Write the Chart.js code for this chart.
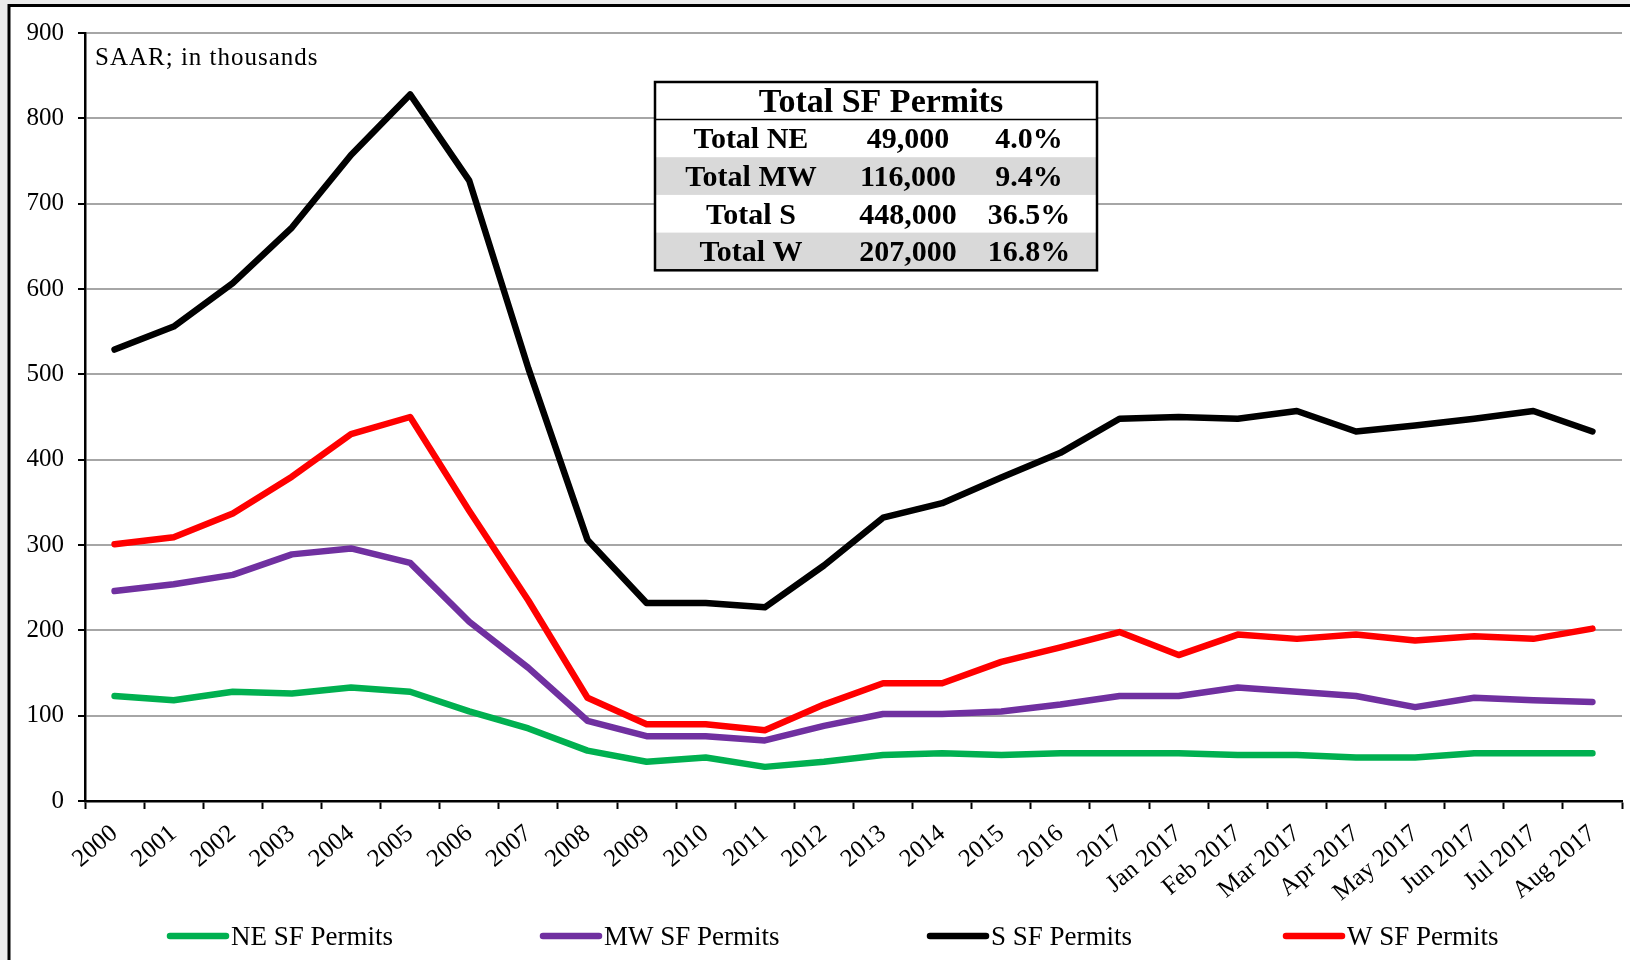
<!DOCTYPE html>
<html>
<head>
<meta charset="utf-8">
<title>SF Permits by Region</title>
<script src="https://cdn.jsdelivr.net/npm/chart.js"></script>
<style>
    html, body { margin: 0; padding: 0; background: #ebebeb; }
    #wrap { width: 1630px; height: 960px; position: relative; }
</style>
</head>
<body>
<div id="wrap"><canvas id="permitChart"></canvas></div>
<script>
// 카테고리 (연도 + 2017년 월별)
const labels = ['2000', '2001', '2002', '2003', '2004', '2005', '2006', '2007', '2008',
    '2009', '2010', '2011', '2012', '2013', '2014', '2015', '2016', '2017',
    'Jan 2017', 'Feb 2017', 'Mar 2017', 'Apr 2017', 'May 2017', 'Jun 2017', 'Jul 2017', 'Aug 2017'];

// 지역별 단독주택 허가 (SAAR, 천 단위)
const neValues = [123, 118, 128, 126, 133, 128, 105, 85, 59, 46, 51, 40, 46, 54, 56, 54, 56, 56,
    56, 54, 54, 51, 51, 56, 56, 56];
const mwValues = [246, 254, 265, 289, 296, 279, 210, 156, 94, 76, 76, 71, 88, 102, 102, 105, 113, 123,
    123, 133, 128, 123, 110, 121, 118, 116];
const sValues = [529, 556, 607, 672, 757, 828, 727, 507, 306, 232, 232, 227, 276, 332, 349, 379, 408, 448,
    450, 448, 457, 433, 440, 448, 457, 433];
const wValues = [301, 309, 337, 380, 430, 450, 340, 235, 121, 90, 90, 83, 113, 138, 138, 163, 180, 198,
    171, 195, 190, 195, 188, 193, 190, 202];

// 요약 표
const tableTitle = 'Total SF Permits';
const tableNames = ['Total NE', 'Total MW', 'Total S', 'Total W'];
const tableCounts = ['49,000', '116,000', '448,000', '207,000'];
const tableShares = ['4.0%', '9.4%', '36.5%', '16.8%'];

const yTicks = [0, 100, 200, 300, 400, 500, 600, 700, 800, 900];
const note = 'SAAR; in thousands';

const SERIF = '"Liberation Serif", "Times New Roman", serif';

// 배경 + 외곽 테두리
const framePlugin = {
    id: 'frame',
    beforeDraw(chart) {
        const ctx = chart.ctx;
        ctx.save();
        ctx.fillStyle = '#ebebeb';
        ctx.fillRect(0, 0, chart.width, chart.height);
        ctx.fillStyle = '#ffffff';
        ctx.fillRect(9, 6, chart.width - 9, chart.height - 6);
        ctx.strokeStyle = '#000000';
        ctx.lineWidth = 3;
        ctx.beginPath();
        ctx.moveTo(9, chart.height + 2);
        ctx.lineTo(9, 5.5);
        ctx.lineTo(chart.width + 2, 5.5);
        ctx.stroke();
        ctx.restore();
    }
};

// 메모, 표, 범례
const overlayPlugin = {
    id: 'overlay',
    afterDraw(chart) {
        const ctx = chart.ctx;
        ctx.save();

        // SAAR 메모
        ctx.fillStyle = '#000';
        ctx.font = '25px ' + SERIF;
        ctx.letterSpacing = '1px';
        ctx.textAlign = 'left';
        ctx.textBaseline = 'alphabetic';
        ctx.fillText(note, 95, 65);
        ctx.letterSpacing = '0px';

        // 표
        const tx = 655, ty = 82, tw = 442, titleH = 37.5, rowH = 37.7;
        ctx.fillStyle = '#ffffff';
        ctx.fillRect(tx, ty, tw, titleH + rowH * 4);
        ctx.fillStyle = '#d9d9d9';
        ctx.fillRect(tx, ty + titleH + rowH, tw, rowH);
        ctx.fillRect(tx, ty + titleH + rowH * 3, tw, rowH);
        ctx.strokeStyle = '#000';
        ctx.lineWidth = 2.5;
        ctx.strokeRect(tx, ty, tw, titleH + rowH * 4);
        ctx.lineWidth = 1.5;
        ctx.beginPath();
        ctx.moveTo(tx, ty + titleH);
        ctx.lineTo(tx + tw, ty + titleH);
        ctx.stroke();

        ctx.fillStyle = '#000';
        ctx.textAlign = 'center';
        ctx.textBaseline = 'middle';
        ctx.font = 'bold 34px ' + SERIF;
        ctx.fillText(tableTitle, 881, ty + titleH / 2 + 2);
        ctx.font = 'bold 30px ' + SERIF;
        tableNames.forEach((name, i) => {
            const cy = ty + titleH + rowH * i + rowH / 2 + 2;
            ctx.fillText(name, 751, cy);
            ctx.fillText(tableCounts[i], 908, cy);
            ctx.fillText(tableShares[i], 1029, cy);
        });

        // 범례
        const legendX = [170, 543, 930, 1286];
        const ly = 936;
        ctx.font = '27px ' + SERIF;
        ctx.textAlign = 'left';
        ctx.lineCap = 'round';
        chart.data.datasets.forEach((ds, i) => {
            ctx.strokeStyle = ds.borderColor;
            ctx.lineWidth = 6.5;
            ctx.beginPath();
            ctx.moveTo(legendX[i], ly);
            ctx.lineTo(legendX[i] + 56, ly);
            ctx.stroke();
            ctx.fillStyle = '#000';
            ctx.fillText(ds.label, legendX[i] + 61, ly + 2);
        });

        ctx.restore();
    }
};

const lineStyle = {
    borderWidth: 6.5,
    pointRadius: 0,
    tension: 0,
    fill: false,
    borderJoinStyle: 'round',
    borderCapStyle: 'round'
};

new Chart(document.getElementById('permitChart'), {
    type: 'line',
    data: {
        labels: labels,
        datasets: [
            { label: 'NE SF Permits', data: neValues, borderColor: '#00b050', ...lineStyle },
            { label: 'MW SF Permits', data: mwValues, borderColor: '#7030a0', ...lineStyle },
            { label: 'S SF Permits', data: sValues, borderColor: '#000000', ...lineStyle },
            { label: 'W SF Permits', data: wValues, borderColor: '#ff0000', ...lineStyle }
        ]
    },
    options: {
        responsive: true,
        maintainAspectRatio: false,
        animation: false,
        layout: { padding: { top: 33, left: 0, right: 8, bottom: 0 } },
        plugins: {
            legend: { display: false },
            tooltip: { enabled: false },
            title: { display: false }
        },
        scales: {
            x: {
                offset: true,
                grid: {
                    offset: true,
                    drawOnChartArea: false,
                    drawTicks: true,
                    tickLength: 8,
                    tickColor: '#000',
                    tickWidth: 2
                },
                border: { color: '#000', width: 2.5 },
                ticks: {
                    autoSkip: false,
                    maxRotation: 40,
                    minRotation: 40,
                    padding: 10,
                    color: '#000',
                    font: { family: SERIF, size: 25 }
                },
                afterFit(scale) { scale.height = 159; }
            },
            y: {
                min: 0,
                max: 900,
                afterBuildTicks(scale) { scale.ticks = yTicks.map(v => ({ value: v })); },
                grid: {
                    color: '#a6a6a6',
                    lineWidth: 2,
                    tickColor: '#000',
                    tickLength: 7,
                    tickWidth: 2
                },
                border: { color: '#000', width: 2.5 },
                ticks: {
                    padding: 14,
                    color: '#000',
                    font: { family: SERIF, size: 25 }
                },
                afterFit(scale) { scale.width = 85; }
            }
        }
    },
    plugins: [framePlugin, overlayPlugin]
});
</script>
</body>
</html>
